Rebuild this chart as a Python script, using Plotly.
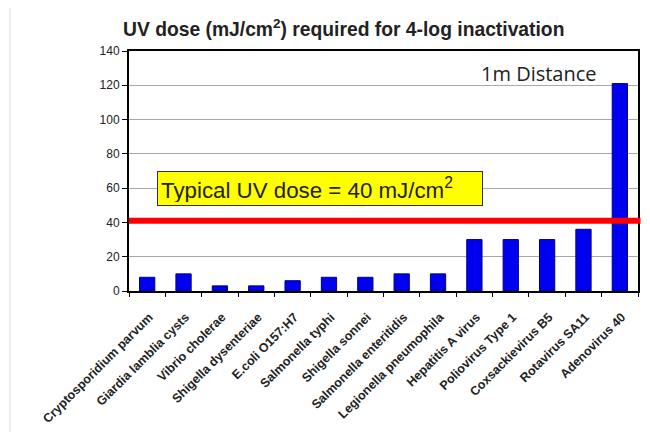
import plotly.graph_objects as go

categories = ["Cryptosporidium parvum", "Giardia lamblia cysts", "Vibrio cholerae",
              "Shigella dysenteriae", "E.coli O157:H7", "Salmonella typhi",
              "Shigella sonnei", "Salmonella enteritidis", "Legionella pneumophila",
              "Hepatitis A virus", "Poliovirus Type 1", "Coxsackievirus B5",
              "Rotavirus SA11", "Adenovirus 40"]
uv_dose = [8, 10, 3, 3, 6, 8, 8, 10, 10, 30, 30, 30, 36, 121]
typical_dose = 41
y_ticks = [0, 20, 40, 60, 80, 100, 120, 140]

fig = go.Figure()
fig.add_trace(go.Bar(
    x=categories, y=uv_dose,
    marker=dict(color="#0000f0", line=dict(color="#000080", width=1)),
    width=0.42,
))

fig.add_shape(type="line", xref="paper", yref="y", x0=0, x1=1.005,
              y0=typical_dose, y1=typical_dose,
              line=dict(color="#ff0000", width=6), layer="above")

# faint frame line at far left of the image
fig.add_shape(type="line", xref="paper", yref="paper", x0=-0.234, x1=-0.234,
              y0=-0.75, y1=1.3, line=dict(color="#ececec", width=2))

fig.add_annotation(xref="paper", yref="y", x=0.376, y=60,
                   text="Typical UV dose = 40 mJ/cm<sup>2</sup>",
                   showarrow=False, bgcolor="#ffff00", bordercolor="#333333",
                   borderwidth=1, borderpad=3, width=318, height=27, align="left",
                   font=dict(family="Liberation Sans, Arial", size=22.3, color="#222222"))

fig.add_annotation(xref="paper", yref="paper", x=0.805, y=0.908,
                   xanchor="center", yanchor="middle",
                   text="1m Distance", showarrow=False,
                   font=dict(family="Open Sans, DejaVu Sans", size=20, color="#222222"))

fig.update_layout(
    width=650, height=432,
    margin=dict(l=121, r=20, t=43, b=149),
    paper_bgcolor="white", plot_bgcolor="white",
    showlegend=False,
    title=dict(text="<b>UV dose (mJ/cm<sup>2</sup>) required for 4-log inactivation</b>",
               x=115/650, xanchor="left", y=1 - 21/432, yanchor="middle",
               font=dict(family="Liberation Sans, Arial", size=19.3, color="#222222")),
    bargap=0.58,
)
fig.update_xaxes(type="category", tickangle=-45, showline=True, linecolor="black",
                 linewidth=2, mirror=True, ticks="outside", tickson="boundaries",
                 ticklen=4, tickcolor="black",
                 tickvals=categories, ticktext=["<b>" + c + "</b>" for c in categories],
                 ticklabelstandoff=12, ticklabelshift=2,
                 tickfont=dict(family="Liberation Sans, Arial", size=12.5, color="#222222"),
                 showgrid=False)
fig.update_yaxes(range=[0, 140], tickvals=y_ticks, showline=True, linecolor="black",
                 linewidth=2, mirror=True, ticks="outside", ticklen=5, tickcolor="black",
                 gridcolor="#a8a8a8", gridwidth=1, zeroline=False,
                 tickfont=dict(family="Liberation Sans, Arial", size=12, color="#222222"),
                 tickprefix="<b>", ticksuffix="</b>")

fig.write_html("out.html")
